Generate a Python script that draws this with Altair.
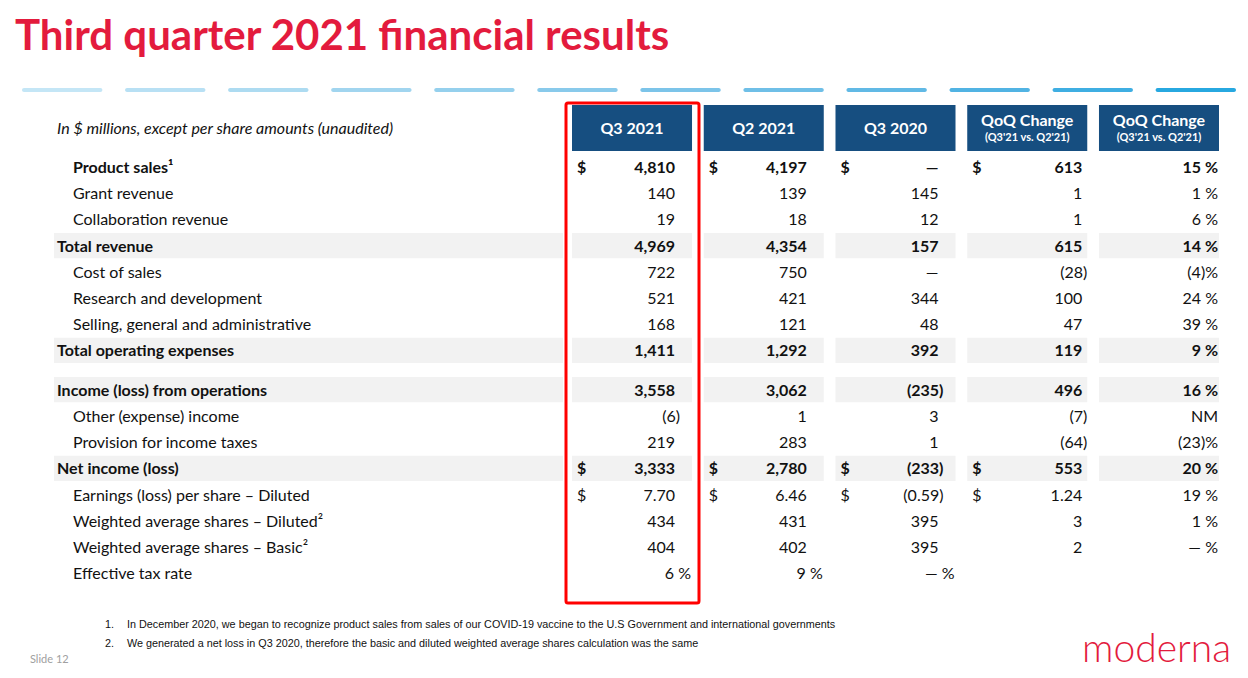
import altair as alt
import pandas as pd

# ---------------- data ----------------
title_text = "Third quarter 2021 financial results"
subtitle_text = "In $ millions, except per share amounts (unaudited)"

labels = [
    "Product sales¹",
    "Grant revenue",
    "Collaboration revenue",
    "Total revenue",
    "Cost of sales",
    "Research and development",
    "Selling, general and administrative",
    "Total operating expenses",
    "Income (loss) from operations",
    "Other (expense) income",
    "Provision for income taxes",
    "Net income (loss)",
    "Earnings (loss) per share – Diluted",
    "Weighted average shares – Diluted²",
    "Weighted average shares – Basic²",
    "Effective tax rate",
]
bold_rows = ["Product sales¹", "Total revenue", "Total operating expenses",
             "Income (loss) from operations", "Net income (loss)"]
shaded_rows = ["Total revenue", "Total operating expenses",
               "Income (loss) from operations", "Net income (loss)"]
outdented_rows = ["Total revenue", "Total operating expenses",
                  "Income (loss) from operations", "Net income (loss)"]
dollar_rows = ["Product sales¹", "Net income (loss)", "Earnings (loss) per share – Diluted"]
gap_before = ["Income (loss) from operations"]

columns = ["Q3 2021", "Q2 2021", "Q3 2020", "QoQ $", "QoQ %"]
header_main = ["Q3 2021", "Q2 2021", "Q3 2020", "QoQ Change", "QoQ Change"]
header_sub = ["", "", "", "(Q3'21 vs. Q2'21)", "(Q3'21 vs. Q2'21)"]

q3_2021 = ["4,810", "140", "19", "4,969", "722", "521", "168", "1,411",
           "3,558", "(6)", "219", "3,333", "7.70", "434", "404", "6 %"]
q2_2021 = ["4,197", "139", "18", "4,354", "750", "421", "121", "1,292",
           "3,062", "1", "283", "2,780", "6.46", "431", "402", "9 %"]
q3_2020 = ["—", "145", "12", "157", "—", "344", "48", "392",
           "(235)", "3", "1", "(233)", "(0.59)", "395", "395", "— %"]
qoq_abs = ["613", "1", "1", "615", "(28)", "100", "47", "119",
           "496", "(7)", "(64)", "553", "1.24", "3", "2", ""]
qoq_pct = ["15 %", "1 %", "6 %", "14 %", "(4)%", "24 %", "39 %", "9 %",
           "16 %", "NM", "(23)%", "20 %", "19 %", "1 %", "— %", ""]

footnote_nums = ["1.", "2."]
footnote_texts = [
    "In December 2020, we began to recognize product sales from sales of our COVID-19 vaccine to the U.S Government and international governments",
    "We generated a net loss in Q3 2020, therefore the basic and diluted weighted average shares calculation was the same",
]
slide_label = "Slide 12"
logo_text = "moderna"
dash_count = 12

# ---------------- tables built from the lists ----------------
values = dict(zip(columns, [q3_2021, q2_2021, q3_2020, qoq_abs, qoq_pct]))
groups = dict(zip(columns, ["A", "A", "A", "B", "C"]))

rows, cells = [], []
p = 0.0
for i, lab in enumerate(labels):
    if lab in gap_before:
        p += 0.5
    rows.append(dict(label=lab, pos=p, bold=lab in bold_rows,
                     shaded=lab in shaded_rows, outdent=lab in outdented_rows))
    for c in columns:
        t = values[c][i]
        cells.append(dict(label=lab, pos=p, col=c, txt=t, bold=lab in bold_rows,
                          shaded=lab in shaded_rows, group=groups[c],
                          dollar=(lab in dollar_rows and c != "QoQ %"),
                          hang=t.endswith(")"), pct=t.endswith("%")))
    p += 1
rows_df = pd.DataFrame(rows)
cells_df = pd.DataFrame(cells)
header_df = pd.DataFrame(dict(col=columns, main=header_main, sub=header_sub,
                              two=[s != "" for s in header_sub]))
dash_df = pd.DataFrame(dict(i=list(range(dash_count))))
one = pd.DataFrame(dict(a=[0]))

# ---------------- scales / style ----------------
W, H = 1232, 662
FONT = "Lato"
RED = "#e31b3d"
NAVY = "#164e80"
GREY = "#f2f2f2"
INK = "#111111"
HALF = 60  # half of the column band width

yscale = alt.Scale(domain=[-159 / 26.2, (H - 159) / 26.2], reverse=True, zero=False, nice=False)
xscale = alt.Scale(type="band", domain=columns, range=[564, 1211], paddingInner=0.089, paddingOuter=0)
Y = alt.Y("pos:Q", scale=yscale, axis=None)
XC = alt.X("col:N", scale=xscale, axis=None)

layers = []

# title
layers.append(alt.Chart(one).mark_text(text=title_text, font=FONT, fontSize=42, fontWeight="bold",
                                       color=RED, align="left", baseline="alphabetic")
              .encode(x=alt.value(7), y=alt.value(42)))

# dashes
layers.append(alt.Chart(dash_df).mark_rect(cornerRadius=2).encode(
    x=alt.X("i:O", scale=alt.Scale(type="band", domain=list(range(dash_count)), range=[14, 1228],
                                   paddingInner=0.22, paddingOuter=0), axis=None),
    y=alt.value(80), y2=alt.value(84),
    color=alt.Color("i:Q", scale=alt.Scale(range=["#c4e6f6", "#27a8e0"]), legend=None)))

# shaded bands: label column and value columns
band_base = alt.Chart(rows_df).transform_filter("datum.shaded").transform_calculate(
    y1="datum.pos - 0.48", y2="datum.pos + 0.48")
layers.append(band_base.mark_rect(color=GREY).encode(
    x=alt.value(46), x2=alt.value(555),
    y=alt.Y("y1:Q", scale=yscale, axis=None), y2="y2:Q"))
cell_band = alt.Chart(cells_df).transform_filter("datum.shaded").transform_calculate(
    y1="datum.pos - 0.48", y2="datum.pos + 0.48")
layers.append(cell_band.mark_rect(color=GREY).encode(
    x=XC, y=alt.Y("y1:Q", scale=yscale, axis=None), y2="y2:Q"))

# header boxes and text
layers.append(alt.Chart(header_df).mark_rect(color=NAVY).encode(
    x=XC, y=alt.value(97), y2=alt.value(143)))
layers.append(alt.Chart(header_df).transform_filter("!datum.two").mark_text(
    font=FONT, fontSize=16, fontWeight="bold", color="white", baseline="middle").encode(
    x=XC, y=alt.value(121), text="main:N"))
layers.append(alt.Chart(header_df).transform_filter("datum.two").mark_text(
    font=FONT, fontSize=16, fontWeight="bold", color="white", baseline="middle").encode(
    x=XC, y=alt.value(113), text="main:N"))
layers.append(alt.Chart(header_df).transform_filter("datum.two").mark_text(
    font=FONT, fontSize=11, fontWeight="bold", color="white", baseline="middle").encode(
    x=XC, y=alt.value(130), text="sub:N"))

# subtitle
layers.append(alt.Chart(one).mark_text(text=subtitle_text, font=FONT, fontSize=16, fontStyle="italic",
                                       color=INK, align="left", baseline="middle")
              .encode(x=alt.value(49), y=alt.value(121)))

# row labels
for cond, xv in [("datum.outdent", 49), ("!datum.outdent", 65)]:
    for bcond, wt in [("datum.bold", "bold"), ("!datum.bold", "normal")]:
        layers.append(alt.Chart(rows_df).transform_filter(f"({cond}) && ({bcond})").mark_text(
            font=FONT, fontSize=16, fontWeight=wt, color=INK, align="left", baseline="middle", dy=1
        ).encode(x=alt.value(xv), y=Y, text="label:N"))

# values (offsets measured from the column centre)
cases = [
    ("datum.group == 'A' && !datum.hang && !datum.pct", HALF - 17),
    ("datum.group == 'A' && datum.hang", HALF - 12),
    ("datum.group == 'A' && datum.pct", HALF - 1),
    ("datum.group == 'B' && !datum.hang", HALF - 5),
    ("datum.group == 'B' && datum.hang", HALF),
    ("datum.group == 'C'", HALF - 1),
]
for bcond, wt in [("datum.bold", "bold"), ("!datum.bold", "normal")]:
    for cond, dx in cases:
        layers.append(alt.Chart(cells_df).transform_filter(f"({cond}) && ({bcond})").mark_text(
            font=FONT, fontSize=16, fontWeight=wt, color=INK, align="right", baseline="middle",
            dx=dx, dy=1).encode(x=XC, y=Y, text="txt:N"))
    layers.append(alt.Chart(cells_df).transform_filter(f"datum.dollar && ({bcond})").mark_text(
        text="$", font=FONT, fontSize=16, fontWeight=wt, color=INK, align="left", baseline="middle",
        dx=-HALF + 5, dy=1).encode(x=XC, y=Y))

# red highlight around Q3 2021
layers.append(alt.Chart(one).mark_rect(fillOpacity=0, stroke="#ff0000", strokeWidth=3, cornerRadius=2)
              .encode(x=alt.value(558), x2=alt.value(691), y=alt.value(95), y2=alt.value(595)))

# footnotes
for k, yy in enumerate([617, 636]):
    layers.append(alt.Chart(one).mark_text(text=footnote_nums[k], font="Liberation Sans", fontSize=10.8,
                                           color=INK, align="left", baseline="middle")
                  .encode(x=alt.value(97), y=alt.value(yy)))
    layers.append(alt.Chart(one).mark_text(text=footnote_texts[k], font="Liberation Sans", fontSize=10.8,
                                           color=INK, align="left", baseline="middle")
                  .encode(x=alt.value(119), y=alt.value(yy)))

layers.append(alt.Chart(one).mark_text(text=slide_label, font=FONT, fontSize=11, color="#a0a0a0",
                                       align="left", baseline="middle")
              .encode(x=alt.value(22), y=alt.value(652)))
layers.append(alt.Chart(one).mark_text(text=logo_text, font=FONT, fontSize=39, fontWeight=300, color=RED,
                                       align="left", baseline="middle")
              .encode(x=alt.value(1074), y=alt.value(642)))

chart = alt.layer(*layers).resolve_scale(x="independent", color="independent").properties(
    width=W, height=H, autosize=alt.AutoSizeParams(type="none"), padding=0
).configure_view(stroke=None)

chart.save("out.html", embed_options={"renderer": "svg", "actions": False})
